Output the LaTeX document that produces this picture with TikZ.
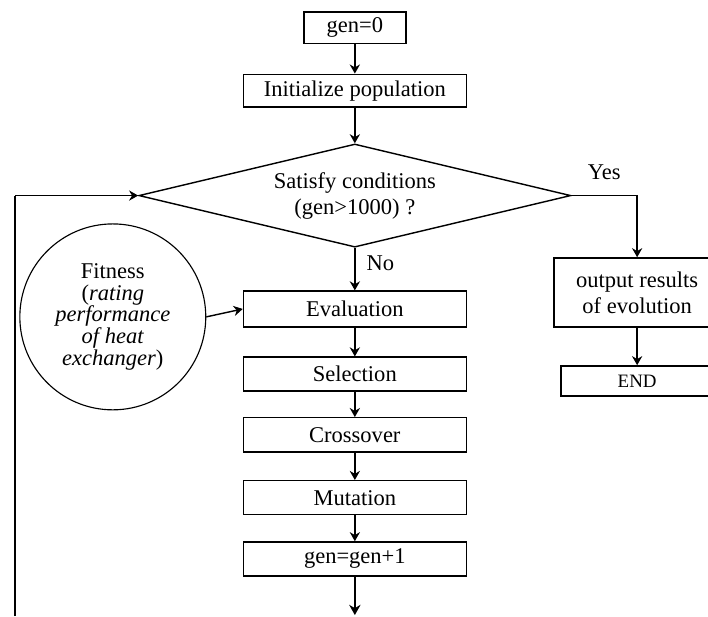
\documentclass[tikz,border=0pt]{standalone}
\usepackage{fontspec}
\setmainfont{Liberation Serif}
\usetikzlibrary{arrows.meta,shapes.geometric}
\tikzset{
   arrow/.style = {-{Stealth[length=1.6mm,width=1.8mm]},line width=0.25mm},
   looparrow/.style = {-{Stealth[length=1.8mm,width=2mm]},line width=0.45mm},
   stepbox/.style = {
      rectangle,
      draw,
      line width = 0.25mm,
      inner sep = 0pt,
      minimum width = 39.3mm,
      minimum height = 6mm,
   },
}

\begin{document}
\begin{tikzpicture}[font=\fontsize{11.3}{13}\selectfont]

      \useasboundingbox (0mm,0mm) rectangle (124.9mm,-108.7mm);
      \clip (0mm,0mm) rectangle (124.9mm,-108.7mm);

      \node[
         stepbox,
         minimum width=18mm,
         minimum height=5.6mm,
      ] (gen0) at (62.6mm,-4.9mm){gen=0};

      \node[
         stepbox,
         minimum height=5.8mm,
      ] (init) at (62.6mm,-16mm){Initialize population};

      \node[
         diamond,
         draw,
         line width = 0.25mm,
         aspect=4.2,
         inner sep=0pt,
         minimum width=76.2mm,
         minimum height=18.2mm,
         align=center,
      ] (cond) at (62.6mm,-34.5mm){Satisfy conditions\\(gen>1000) ?};

      \node[
         stepbox,
         minimum width=29.3mm,
         minimum height=12.2mm,
         align=center,
      ] (out) at (112.4mm,-51.6mm){output results\\of evolution};

      \node[
         stepbox,
         font=\fontsize{9.5}{11}\selectfont,
         minimum width=26.8mm,
         minimum height=5.3mm,
      ] (end) at (112.4mm,-67.2mm){END};

      \node[
         circle,
         draw,
         line width = 0.2mm,
         inner sep=0pt,
         minimum size=32.8mm,
         align=center,
         font=\fontsize{11.3}{11}\selectfont,
      ] (fit) at (19.9mm,-55.9mm){Fitness\\(\textit{rating}\\\textit{performance}\\\textit{of heat}\\\textit{exchanger})};

      \node[stepbox, minimum height=6.3mm] (eval)  at (62.6mm,-54.5mm){Evaluation};
      \node[stepbox] (sel)   at (62.6mm,-66mm)  {Selection};
      \node[stepbox] (cross) at (62.6mm,-76.7mm){Crossover};
      \node[stepbox] (mut)   at (62.6mm,-87.8mm){Mutation};
      \node[stepbox] (gen1)  at (62.6mm,-98.6mm){gen=gen+1};

      \coordinate (down) at (62.6mm,-108.5mm);
      \coordinate (back) at (2.65mm,-108.7mm);
      \coordinate (lefttop) at (back |- cond.west);

      \draw[arrow] (gen0.south)  -- (init.north);
      \draw[arrow] (init.south)  -- (cond.north);
      \draw[arrow] (cond.south)  -- node[pos=0.36,right=0.8mm]{No} (eval.north);
      \draw[arrow] (cond.east)   -| node[pos=0.25,above=1.5mm]{Yes} (out.north);
      \draw[arrow] (out.south)   -- (end.north);
      \draw[arrow] (fit.east)    -- (eval.west);
      \draw[arrow] (eval.south)  -- (sel.north);
      \draw[arrow] (sel.south)   -- (cross.north);
      \draw[arrow] (cross.south) -- (mut.north);
      \draw[arrow] (mut.south)   -- (gen1.north);
      \draw[looparrow] (gen1.south) -- (down);
      \draw[line width=0.45mm] (back) -- (lefttop);
      \draw[arrow] (lefttop) -- (cond.west);

\end{tikzpicture}
\end{document}
